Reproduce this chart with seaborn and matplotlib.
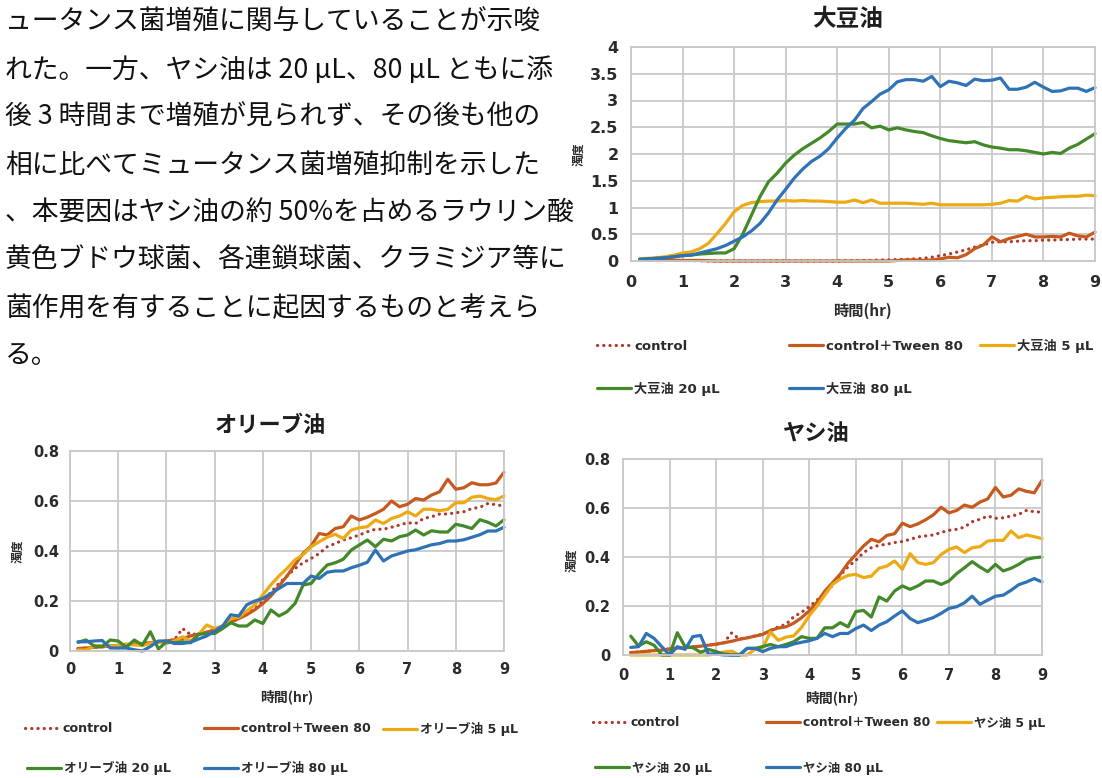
#%%
import pandas as pd
import seaborn as sns
import matplotlib.pyplot as plt
from matplotlib.lines import Line2D
from matplotlib.ticker import FuncFormatter, MultipleLocator

W, H = 1102, 778

## body text (left column, cut from a page)
BODY_LINES = [
    "ュータンス菌増殖に関与していることが示唆",
    "れた。一方、ヤシ油は 20 µL、80 µL ともに添",
    "後 3 時間まで増殖が見られず、その後も他の",
    "相に比べてミュータンス菌増殖抑制を示した",
    "、本要因はヤシ油の約 50%を占めるラウリン酸",
    "黄色ブドウ球菌、各連鎖球菌、クラミジア等に",
    "菌作用を有することに起因するものと考えら",
    "る。",
]

## sampling times (minutes)
TIME_MIN = [
    10, 20, 30, 40, 50, 60,
    70, 80, 90, 100, 110, 120,
    130, 140, 150, 160, 170, 180,
    190, 200, 210, 220, 230, 240,
    250, 260, 270, 280, 290, 300,
    310, 320, 330, 340, 350, 360,
    370, 380, 390, 400, 410, 420,
    430, 440, 450, 460, 470, 480,
    490, 500, 510, 520, 530, 540,
]

## 大豆油
SOY_CONTROL = [
    0.02, 0.02, 0.015, 0.015, 0.01, 0.01,
    0.01, 0.005, 0.0, 0.0, 0.0, 0.0,
    0.0, 0.0, 0.0, 0.0, 0.0, 0.0,
    0.0, 0.0, 0.0, 0.0, 0.0, 0.0,
    0.005, 0.005, 0.01, 0.01, 0.02, 0.02,
    0.03, 0.03, 0.04, 0.05, 0.07, 0.10,
    0.13, 0.17, 0.21, 0.26, 0.30, 0.35,
    0.36, 0.36, 0.37, 0.38, 0.38, 0.39,
    0.39, 0.40, 0.40, 0.41, 0.41, 0.41,
]
SOY_TWEEN = [
    0.02, 0.02, 0.02, 0.015, 0.015, 0.01,
    0.01, 0.01, 0.005, 0.0, 0.0, 0.0,
    0.0, 0.0, 0.0, 0.0, 0.0, 0.0,
    0.0, 0.0, 0.0, 0.0, 0.0, 0.0,
    0.0, 0.0, 0.0, 0.0, 0.0, 0.0,
    0.01, 0.02, 0.02, 0.01, 0.02, 0.04,
    0.07, 0.06, 0.12, 0.23, 0.30, 0.45,
    0.36, 0.42, 0.46, 0.50, 0.45, 0.45,
    0.46, 0.45, 0.52, 0.47, 0.45, 0.54,
]
SOY_5 = [
    0.04, 0.05, 0.06, 0.08, 0.11, 0.15,
    0.17, 0.23, 0.33, 0.51, 0.70, 0.92,
    1.04, 1.09, 1.11, 1.12, 1.12, 1.13,
    1.12, 1.13, 1.12, 1.12, 1.11, 1.10,
    1.10, 1.14, 1.09, 1.14, 1.08, 1.08,
    1.08, 1.08, 1.07, 1.06, 1.08, 1.05,
    1.05, 1.05, 1.05, 1.05, 1.05, 1.06,
    1.08, 1.13, 1.12, 1.21, 1.16, 1.18,
    1.19, 1.20, 1.21, 1.21, 1.23, 1.22,
]
SOY_20 = [
    0.03, 0.04, 0.05, 0.06, 0.08, 0.10,
    0.11, 0.13, 0.14, 0.15, 0.15, 0.23,
    0.50, 0.85, 1.20, 1.48, 1.64, 1.83,
    1.98, 2.10, 2.20, 2.30, 2.42, 2.56,
    2.56, 2.56, 2.59, 2.49, 2.52, 2.45,
    2.49, 2.45, 2.42, 2.40, 2.34, 2.29,
    2.25, 2.23, 2.21, 2.23, 2.17, 2.13,
    2.11, 2.08, 2.08, 2.06, 2.03, 2.00,
    2.03, 2.01, 2.11, 2.18, 2.28, 2.38,
]
SOY_80 = [
    0.03, 0.04, 0.05, 0.06, 0.08, 0.10,
    0.11, 0.15, 0.19, 0.23, 0.29, 0.37,
    0.45, 0.56, 0.70, 0.90, 1.14, 1.34,
    1.55, 1.72, 1.86, 1.96, 2.10, 2.30,
    2.48, 2.63, 2.85, 2.98, 3.12, 3.20,
    3.35, 3.39, 3.39, 3.36, 3.45, 3.26,
    3.36, 3.33, 3.28, 3.40, 3.37, 3.38,
    3.42, 3.21, 3.21, 3.25, 3.34, 3.25,
    3.17, 3.18, 3.23, 3.23, 3.17, 3.24,
]

## オリーブ油
OLIVE_CONTROL = [
    0.010, 0.012, 0.015, 0.017, 0.020, 0.022,
    0.025, 0.028, 0.030, 0.033, 0.036, 0.040,
    0.045, 0.090, 0.065, 0.070, 0.075, 0.085,
    0.100, 0.115, 0.130, 0.150, 0.170, 0.200,
    0.235, 0.270, 0.300, 0.330, 0.353, 0.370,
    0.390, 0.417, 0.430, 0.444, 0.453, 0.464,
    0.477, 0.487, 0.487, 0.495, 0.504, 0.513,
    0.510, 0.530, 0.537, 0.548, 0.548, 0.553,
    0.557, 0.570, 0.575, 0.590, 0.585, 0.580,
]
OLIVE_TWEEN = [
    0.010, 0.012, 0.015, 0.017, 0.020, 0.022,
    0.025, 0.028, 0.030, 0.033, 0.036, 0.040,
    0.045, 0.050, 0.060, 0.068, 0.075, 0.085,
    0.100, 0.115, 0.130, 0.145, 0.165, 0.190,
    0.220, 0.260, 0.300, 0.345, 0.390, 0.420,
    0.470, 0.464, 0.490, 0.497, 0.540, 0.524,
    0.535, 0.550, 0.567, 0.600, 0.577, 0.587,
    0.610, 0.604, 0.624, 0.637, 0.687, 0.647,
    0.653, 0.673, 0.665, 0.665, 0.672, 0.715,
]
OLIVE_5 = [
    0.004, 0.004, 0.020, 0.022, 0.020, 0.022,
    0.028, 0.024, 0.022, 0.030, 0.037, 0.030,
    0.040, 0.057, 0.040, 0.065, 0.104, 0.090,
    0.100, 0.130, 0.135, 0.160, 0.185, 0.225,
    0.265, 0.300, 0.330, 0.365, 0.385, 0.417,
    0.437, 0.455, 0.467, 0.450, 0.484, 0.493,
    0.497, 0.524, 0.510, 0.530, 0.540, 0.557,
    0.540, 0.567, 0.567, 0.561, 0.567, 0.593,
    0.593, 0.615, 0.620, 0.610, 0.605, 0.620,
]
OLIVE_20 = [
    0.035, 0.044, 0.020, 0.017, 0.044, 0.040,
    0.015, 0.044, 0.024, 0.077, 0.008, 0.037,
    0.033, 0.037, 0.033, 0.067, 0.070, 0.070,
    0.090, 0.113, 0.100, 0.100, 0.124, 0.110,
    0.164, 0.140, 0.157, 0.190, 0.264, 0.270,
    0.310, 0.344, 0.353, 0.367, 0.404, 0.424,
    0.444, 0.417, 0.447, 0.440, 0.457, 0.464,
    0.484, 0.464, 0.481, 0.476, 0.476, 0.507,
    0.500, 0.490, 0.525, 0.515, 0.500, 0.525,
]
OLIVE_80 = [
    0.037, 0.037, 0.040, 0.042, 0.012, 0.012,
    0.012, 0.005, 0.000, 0.018, 0.040, 0.040,
    0.030, 0.030, 0.035, 0.048, 0.060, 0.080,
    0.100, 0.145, 0.140, 0.185, 0.200, 0.210,
    0.230, 0.250, 0.270, 0.270, 0.270, 0.300,
    0.290, 0.315, 0.320, 0.320, 0.333, 0.343,
    0.355, 0.404, 0.360, 0.380, 0.390, 0.400,
    0.405, 0.415, 0.425, 0.430, 0.440, 0.440,
    0.445, 0.455, 0.465, 0.480, 0.480, 0.495,
]

## ヤシ油
COCO_CONTROL = [
    0.010, 0.012, 0.015, 0.018, 0.020, 0.025,
    0.028, 0.030, 0.033, 0.036, 0.040, 0.044,
    0.050, 0.090, 0.065, 0.070, 0.078, 0.085,
    0.100, 0.115, 0.125, 0.156, 0.174, 0.197,
    0.224, 0.250, 0.285, 0.325, 0.360, 0.386,
    0.418, 0.438, 0.448, 0.452, 0.459, 0.463,
    0.472, 0.482, 0.486, 0.490, 0.500, 0.509,
    0.513, 0.522, 0.544, 0.554, 0.567, 0.558,
    0.560, 0.567, 0.574, 0.590, 0.585, 0.583,
]
COCO_TWEEN = [
    0.010, 0.012, 0.015, 0.018, 0.020, 0.025,
    0.028, 0.030, 0.033, 0.036, 0.040, 0.044,
    0.050, 0.056, 0.064, 0.070, 0.077, 0.084,
    0.100, 0.110, 0.115, 0.130, 0.152, 0.180,
    0.215, 0.260, 0.295, 0.330, 0.375, 0.410,
    0.445, 0.472, 0.462, 0.488, 0.495, 0.538,
    0.524, 0.535, 0.552, 0.572, 0.603, 0.580,
    0.590, 0.612, 0.603, 0.624, 0.637, 0.684,
    0.645, 0.652, 0.678, 0.668, 0.662, 0.713,
]
COCO_5 = [
    0.0, 0.0, 0.0, 0.0, 0.0, 0.0,
    0.0, 0.0, 0.0, 0.0, 0.0, 0.005,
    0.012, 0.016, 0.0, 0.0, 0.023, 0.030,
    0.094, 0.060, 0.073, 0.078, 0.112, 0.160,
    0.200, 0.245, 0.288, 0.310, 0.325, 0.329,
    0.316, 0.322, 0.354, 0.363, 0.384, 0.350,
    0.414, 0.377, 0.370, 0.377, 0.410, 0.431,
    0.441, 0.418, 0.438, 0.442, 0.465, 0.468,
    0.468, 0.506, 0.479, 0.490, 0.483, 0.475,
]
COCO_20 = [
    0.077, 0.037, 0.054, 0.040, 0.000, 0.000,
    0.091, 0.034, 0.030, 0.011, 0.023, 0.014,
    0.004, 0.000, 0.000, 0.027, 0.027, 0.034,
    0.043, 0.034, 0.043, 0.054, 0.075, 0.068,
    0.068, 0.111, 0.111, 0.132, 0.115, 0.177,
    0.182, 0.155, 0.237, 0.220, 0.261, 0.282,
    0.268, 0.282, 0.302, 0.302, 0.288, 0.302,
    0.332, 0.356, 0.381, 0.359, 0.340, 0.370,
    0.343, 0.354, 0.370, 0.390, 0.397, 0.400,
]
COCO_80 = [
    0.031, 0.034, 0.088, 0.068, 0.034, 0.000,
    0.034, 0.023, 0.075, 0.080, 0.004, 0.004,
    0.000, 0.000, 0.000, 0.027, 0.027, 0.014,
    0.027, 0.034, 0.034, 0.045, 0.052, 0.058,
    0.068, 0.088, 0.075, 0.088, 0.088, 0.108,
    0.122, 0.100, 0.122, 0.136, 0.159, 0.180,
    0.149, 0.132, 0.142, 0.153, 0.170, 0.190,
    0.197, 0.213, 0.240, 0.207, 0.224, 0.240,
    0.244, 0.264, 0.287, 0.298, 0.312, 0.298,
]

## styles
COLORS = ["#B0392C", "#C65A1E", "#EDAA14", "#43892A", "#2F73B6"]
DASHES = [(0.05, 1.9), "", "", "", ""]
GRID = "#C8C8C8"
LAT = ["DejaVu Sans", "Noto Sans CJK JP"]
JP = ["Noto Sans CJK JP", "DejaVu Sans"]

charts = [
    {
        "title": "大豆油", "oil": "大豆油",
        "series": [SOY_CONTROL, SOY_TWEEN, SOY_5, SOY_20, SOY_80],
        "box": (631, 47, 1095, 261), "ymax": 4, "ystep": 0.5,
        "title_xy": (848, 19), "xlab_xy": (862, 311), "ylab_xy": (579, 154),
        "xpad": 10, "ypad": 9, "tick": 11.5, "tsize": 17, "xlsize": 11,
        "ksize": 9.5,
        "keys": [(597, 346), (789, 346), (980, 346), (597, 389), (789, 389)],
    },
    {
        "title": "オリーブ油", "oil": "オリーブ油",
        "series": [OLIVE_CONTROL, OLIVE_TWEEN, OLIVE_5, OLIVE_20, OLIVE_80],
        "box": (70, 451, 504, 651), "ymax": 0.8, "ystep": 0.2,
        "title_xy": (270, 426), "xlab_xy": (287, 697), "ylab_xy": (18, 551),
        "xpad": 8, "ypad": 8, "tick": 10.5, "tsize": 16, "xlsize": 10,
        "ksize": 9.1,
        "keys": [(25, 729), (204, 729), (383, 729), (27, 768), (204, 768)],
    },
    {
        "title": "ヤシ油", "oil": "ヤシ油",
        "series": [COCO_CONTROL, COCO_TWEEN, COCO_5, COCO_20, COCO_80],
        "box": (623, 459, 1042, 655), "ymax": 0.8, "ystep": 0.2,
        "title_xy": (816, 434), "xlab_xy": (832, 698), "ylab_xy": (572, 560),
        "xpad": 9.5, "ypad": 9, "tick": 10.5, "tsize": 16, "xlsize": 10,
        "ksize": 8.9,
        "keys": [(593, 723), (766, 723), (937, 723), (595, 768), (766, 768)],
    },
]

#%% figure
sns.set_style("white")
plt.rcParams["font.family"] = LAT

fig = plt.figure(figsize=(W / 100, H / 100), dpi=100)
fig.patch.set_facecolor("white")


def fx(x, y):
    return x / W, 1 - y / H


for i, line in enumerate(BODY_LINES):
    fig.text(*fx(5, 22 + i * 47.7), line, family=JP, fontsize=19.3,
             ha="left", va="center", color="#111111")

hours = [m / 60 for m in TIME_MIN]

for ch in charts:
    labels = ["control", "control＋Tween 80", f"{ch['oil']} 5 μL",
              f"{ch['oil']} 20 μL", f"{ch['oil']} 80 μL"]
    df = pd.concat(
        [pd.DataFrame({"時間": hours, "濁度": v, "系列": lab})
         for lab, v in zip(labels, ch["series"])],
        ignore_index=True,
    )
    x0, y0, x1, y1 = ch["box"]
    ax = fig.add_axes([x0 / W, 1 - y1 / H, (x1 - x0) / W, (y1 - y0) / H])

    sns.lineplot(
        data=df, x="時間", y="濁度", hue="系列", style="系列",
        hue_order=labels, style_order=labels,
        palette=dict(zip(labels, COLORS)), dashes=dict(zip(labels, DASHES)),
        linewidth=2.3, legend=False, ax=ax, clip_on=False,
    )
    for ln in ax.lines:
        ln.set_dash_capstyle("round")
        ln.set_solid_joinstyle("round")

    ax.set_xlim(0, 9)
    ax.set_ylim(0, ch["ymax"])
    ax.xaxis.set_major_locator(MultipleLocator(1))
    ax.yaxis.set_major_locator(MultipleLocator(ch["ystep"]))
    ax.yaxis.set_major_formatter(FuncFormatter(lambda v, p: f"{v:g}"))
    ax.grid(True, color=GRID, linewidth=1.3)
    ax.set_axisbelow(True)
    for sp in ax.spines.values():
        sp.set_color(GRID)
        sp.set_linewidth(1.3)
    ax.tick_params(axis="x", length=0, pad=ch["xpad"], labelsize=ch["tick"],
                   labelcolor="#2B2B2B")
    ax.tick_params(axis="y", length=0, pad=ch["ypad"], labelsize=ch["tick"],
                   labelcolor="#2B2B2B")
    for lab in ax.get_xticklabels() + ax.get_yticklabels():
        lab.set_fontweight("bold")
    ax.set_xlabel("")
    ax.set_ylabel("")

    fig.text(*fx(*ch["title_xy"]), ch["title"], family=JP, fontsize=ch["tsize"],
             fontweight="bold", ha="center", va="center", color="#1E1E1E")
    fig.text(*fx(*ch["xlab_xy"]), "時間(hr)", family=JP, fontsize=ch["xlsize"],
             fontweight="bold", ha="center", va="center", color="#2B2B2B")
    fig.text(*fx(*ch["ylab_xy"]), "濁度", family=JP, fontsize=8.5,
             fontweight="bold", ha="center", va="center", rotation=90,
             color="#2B2B2B")

    # legend keys, one per entry (Excel-style spacing)
    hl = 34 / (ch["ksize"] * 100 / 72)
    for lab, c, d, (kx, ky) in zip(labels, COLORS, DASHES, ch["keys"]):
        h = Line2D([], [], color=c, lw=2.3, dash_capstyle="round")
        if d:
            h.set_dashes(d)
        fig.legend(
            handles=[h], labels=[lab], loc="center left",
            bbox_to_anchor=fx(kx, ky), frameon=False, borderpad=0,
            borderaxespad=0, handlelength=hl, handletextpad=0.25,
            prop={"family": LAT, "weight": "bold", "size": ch["ksize"]},
            labelcolor="#2B2B2B",
        )

fig.savefig("out.png", dpi=100, facecolor="white")
